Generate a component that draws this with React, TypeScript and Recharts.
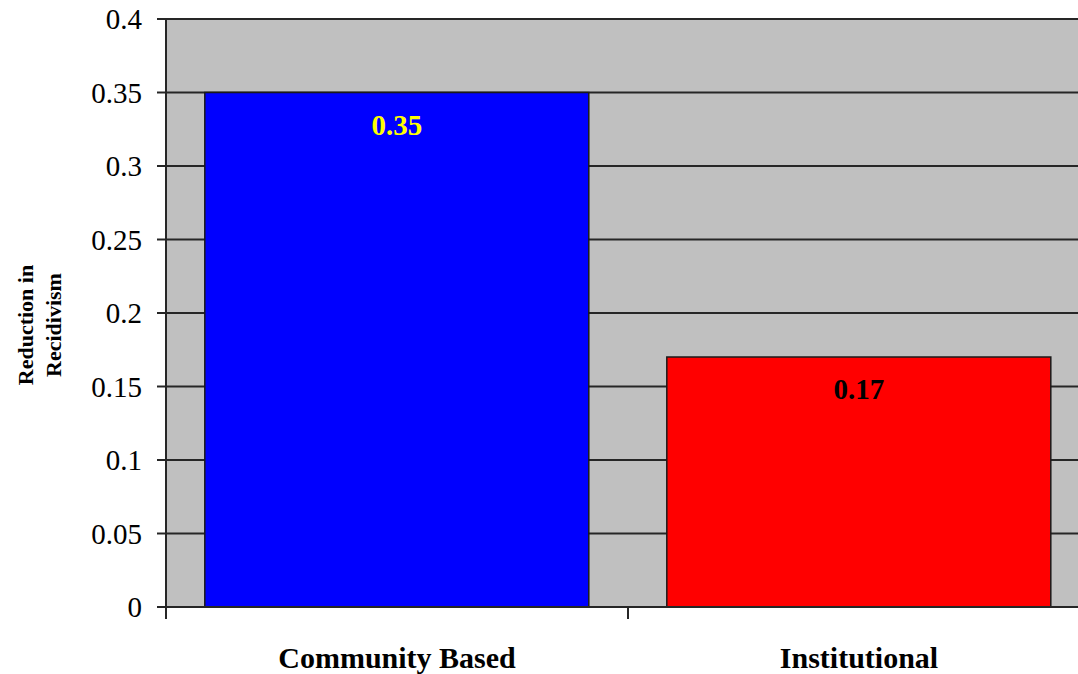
import React from 'react';
import { Bar, BarChart, CartesianGrid, Cell, LabelList, XAxis, YAxis } from 'recharts';

const categories = ['Community Based', 'Institutional'];
const reductions = [0.35, 0.17];
const barColors = ['#0000ff', '#ff0000'];
const valueColors = ['#ffff00', '#000000'];
const yTicks = [0, 0.05, 0.1, 0.15, 0.2, 0.25, 0.3, 0.35, 0.4];
const yTitleLines = ['Reduction in', 'Recidivism'];

const data = categories.map((name, i) => ({ name, value: reductions[i] }));

const FONT = '"Liberation Serif", "Times New Roman", serif';
const INK = '#262626';

// category label centred under the bar, tick mark on the left edge of each band
const CategoryTick = (props: any) => {
  const { x, y, payload } = props;
  const half = payload && payload.offset ? payload.offset : 231;
  return (
    <g>
      <line x1={x - half} x2={x - half} y1={y} y2={y + 12} stroke={INK} strokeWidth={2} />
      <text x={x} y={y + 61} textAnchor="middle" fontFamily={FONT} fontWeight="bold" fontSize={30} fill="#000">
        {payload.value}
      </text>
    </g>
  );
};

const ValueTick = (props: any) => {
  const { x, y, payload } = props;
  return (
    <text x={x} y={y} dy="0.355em" textAnchor="end" fontFamily={FONT} fontSize={29} fill="#000">
      {payload.value}
    </text>
  );
};

const ValueLabel = (props: any) => {
  const { x, y, width, value, index } = props;
  const i = typeof index === 'number' ? index : reductions.indexOf(value);
  return (
    <text
      x={x + width / 2}
      y={y + 42}
      textAnchor="middle"
      fontFamily={FONT}
      fontWeight="bold"
      fontSize={29}
      fill={valueColors[i] || '#000'}
    >
      {value}
    </text>
  );
};

const AxisTitle = (props: any) => {
  const vb = props.viewBox || { x: 0, y: 19, height: 588 };
  const cy = vb.y + vb.height / 2 + 12;
  return (
    <g>
      {yTitleLines.map((line, i) => {
        const bx = vb.x + 33 + i * 28;
        return (
          <text
            key={line}
            x={bx}
            y={cy}
            transform={`rotate(-90, ${bx}, ${cy})`}
            textAnchor="middle"
            fontFamily={FONT}
            fontWeight="bold"
            fontSize={22}
            fill="#000"
          >
            {line}
          </text>
        );
      })}
    </g>
  );
};

const App: React.FC = () => {
  return (
    <div style={{ position: 'fixed', left: 0, top: 0, width: 1078, height: 674, overflow: 'hidden', background: '#fff' }}>
      <BarChart width={1090} height={674} data={data} margin={{ top: 19, right: 0, bottom: 0, left: 0 }} barCategoryGap="8.4%">
        <CartesianGrid vertical={false} fill="#c0c0c0" fillOpacity={1} stroke={INK} strokeWidth={2} />
        <XAxis
          dataKey="name"
          height={67}
          axisLine={{ stroke: INK, strokeWidth: 2 }}
          tickLine={false}
          tickSize={0}
          tickMargin={0}
          tick={<CategoryTick />}
          interval={0}
        />
        <YAxis
          width={166}
          domain={[0, 0.4]}
          ticks={yTicks}
          interval={0}
          axisLine={{ stroke: INK, strokeWidth: 2 }}
          tickLine={{ stroke: INK, strokeWidth: 2 }}
          tickSize={9}
          tickMargin={15}
          tick={<ValueTick />}
          label={{ content: AxisTitle }}
        />
        <Bar dataKey="value" stroke="#1a1a1a" strokeWidth={1.5} isAnimationActive={false}>
          {data.map((d, i) => (
            <Cell key={d.name} fill={barColors[i]} />
          ))}
          <LabelList dataKey="value" content={ValueLabel} />
        </Bar>
      </BarChart>
    </div>
  );
};

export default App;
